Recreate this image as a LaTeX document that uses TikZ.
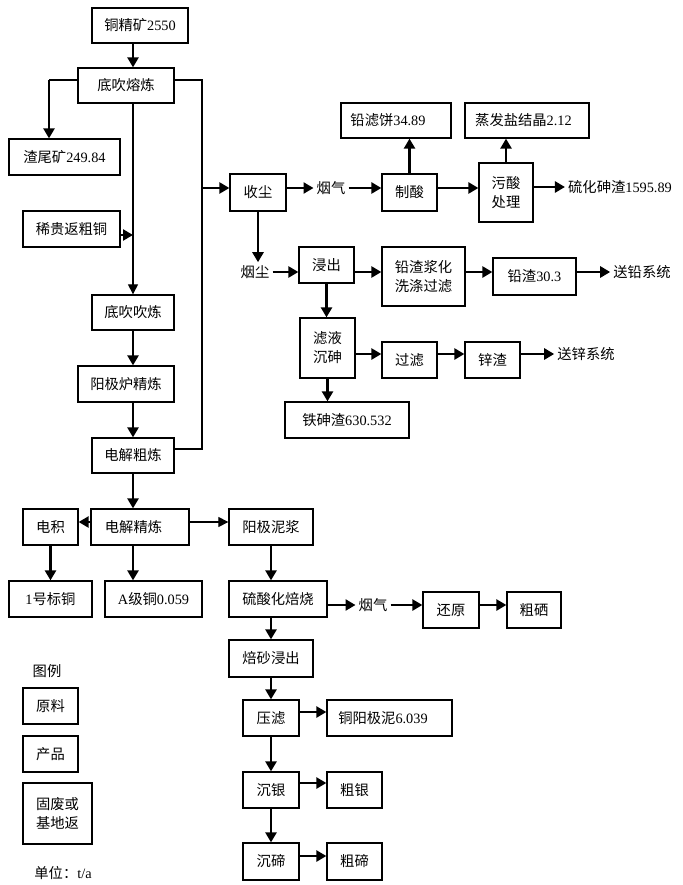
\documentclass[tikz,border=0pt]{standalone}
\usepackage{fontspec}
\setmainfont{Liberation Serif}
\newfontfamily\cjk{Noto Sans CJK SC}
\usetikzlibrary{arrows.meta}
\newcommand\zh[1]{{\cjk #1}}
\newcommand\BX[6]{\node[box, minimum width={(#3-#2)*1pt}, minimum height={(#5-#4)*1pt}] (#1) at ({(#2+#3)/2},{(#4+#5)/2}) {#6};}
\tikzset{
  box/.style={draw, line width=1.3pt, inner sep=0pt, font=\fontsize{14.3}{19}\selectfont, align=center},
  lbl/.style={inner sep=3pt, font=\fontsize{14.3}{19}\selectfont},
  thk/.style={line width=2.5pt, -{Triangle[length=10pt,width=11pt]}},
  thn/.style={line width=1.1pt},
  thnarr/.style={line width=1.1pt, -{Triangle[length=10pt,width=10pt]}},
}
\begin{document}
\begin{tikzpicture}[x=1pt,y=-1pt]
\useasboundingbox[fill=white] (0,0) rectangle (682,885);
% left column
\BX{jjk}{92}{188}{8}{43}{\zh{铜精矿}2550}
\BX{dcrl}{78}{174}{68}{103}{\zh{底吹熔炼}}
\BX{zwk}{9}{120}{139}{175}{\zh{渣尾矿}249.84}
\BX{xgf}{23}{120}{211}{247}{\zh{稀贵返粗铜}}
\BX{dccl}{92}{174}{295}{330}{\zh{底吹吹炼}}
\BX{yjl}{78}{174}{366}{402}{\zh{阳极炉精炼}}
\BX{djcl}{92}{174}{438}{473}{\zh{电解粗炼}}
\BX{dj}{23}{78}{509}{545}{\zh{电积}}
\BX{djjl}{91}{189}{509}{545}{\hspace*{-13pt}\zh{电解精炼}}
\BX{yjnj}{229}{313}{509}{545}{\zh{阳极泥浆}}
\BX{bh}{9}{92}{581}{617}{1\zh{号标铜}}
\BX{aj}{105}{202}{581}{617}{A\zh{级铜}0.059}
\BX{lshbs}{229}{327}{581}{617}{\zh{硫酸化焙烧}}
\BX{hy}{423}{479}{592}{628}{\zh{还原}}
\BX{cx}{507}{561}{592}{628}{\zh{粗硒}}
\BX{bsjc}{229}{313}{640}{677}{\zh{焙砂浸出}}
\BX{yl}{243}{299}{700}{736}{\zh{压滤}}
\BX{tyjn}{327}{452}{700}{736}{\hspace*{-13pt}\zh{铜阳极泥}6.039}
\BX{cy}{243}{299}{772}{808}{\zh{沉银}}
\BX{cyin}{327}{382}{772}{808}{\zh{粗银}}
\BX{ct}{243}{299}{843}{880}{\zh{沉碲}}
\BX{cti}{327}{382}{843}{880}{\zh{粗碲}}
% legend
\node[lbl] (tl) at (47,671) {\zh{图例}};
\BX{lg1}{23}{78}{688}{724}{\zh{原料}}
\BX{lg2}{23}{78}{736}{772}{\zh{产品}}
\BX{lg3}{23}{92}{783}{844}{\zh{固废或}\\\zh{基地返}}
\node[lbl] (unit) at (63,873) {\zh{单位：}t/a};
% right upper part
\BX{ss}{230}{286}{174}{211}{\zh{收尘}}
\BX{zs}{382}{437}{174}{211}{\zh{制酸}}
\BX{qlb}{341}{451}{103}{138}{\hspace*{-16pt}\zh{铅滤饼}34.89}
\BX{wscl}{479}{533}{163}{222}{\zh{污酸}\\\zh{处理}}
\BX{zfy}{465}{589}{103}{138}{\hspace*{-7pt}\zh{蒸发盐结晶}2.12}
\BX{jc}{299}{354}{247}{283}{\zh{浸出}}
\BX{qzjh}{382}{465}{247}{306}{\zh{铅渣浆化}\\\zh{洗涤过滤}}
\BX{qz}{493}{576}{258}{295}{\zh{铅渣}30.3}
\BX{lycs}{300}{355}{318}{378}{\zh{滤液}\\\zh{沉砷}}
\BX{gl}{382}{437}{342}{378}{\zh{过滤}}
\BX{xz}{465}{520}{342}{378}{\zh{锌渣}}
\BX{tsz}{285}{409}{402}{438}{\zh{铁砷渣}630.532}
\node[lbl] (yq1) at (331,188) {\zh{烟气}};
\node[lbl] (lh) at (620,187) {\zh{硫化砷渣}1595.89};
\node[lbl] (yc) at (255,272) {\zh{烟尘}};
\node[lbl] (sq) at (642,272) {\zh{送铅系统}};
\node[lbl] (sx) at (586,354) {\zh{送锌系统}};
\node[lbl] (yq2) at (373,605) {\zh{烟气}};
% helper coordinates
\coordinate (c1) at (49,80);
\coordinate (c2) at (133,235);
\coordinate (c3) at (202,80);
\coordinate (c4) at (202,449);
\coordinate (c5) at (202,188);
% connectors, left column
\draw[thk] ([xshift=-7pt]jjk.south) -- ([xshift=7pt]dcrl.north);
\draw[thn] ([yshift=5.5pt]dcrl.west) -- (c1);
\draw[thk] (c1) -- (c1 |- zwk.north);
\draw[thnarr] ([xshift=7pt]dcrl.south) -- (dccl.north);
\draw[thk] (xgf.east |- c2) -- (c2);
\draw[thn] ([yshift=5.5pt]dcrl.east) -- (c3) -- (c4) -- (c4 -| djcl.east);
\draw[thk] (c5) -- (c5 -| ss.west);
\draw[thk] (dccl.south) -- (dccl.south |- yjl.north);
\draw[thk] (djcl.north |- yjl.south) -- (djcl.north);
\draw[thk] (djcl.south) -- (djcl.south |- djjl.north);
\draw[thk] ([yshift=5pt]djjl.west) -- ([yshift=5pt]dj.east);
\draw[thnarr] ([yshift=5pt]djjl.east) -- ([yshift=5pt]yjnj.west);
\draw[thk] (dj.south) -- (dj.south |- bh.north);
\draw[thk] (djcl.south |- djjl.south) -- (djcl.south |- aj.north);
\draw[thk] (yjnj.south) -- (yjnj.south |- lshbs.north);
\draw[thk] ([yshift=-6pt]lshbs.east) -- (yq2.west);
\draw[thk] (yq2.east) -- (yq2.east -| hy.west);
\draw[thk] ([yshift=5pt]hy.east) -- ([yshift=5pt]cx.west);
\draw[thk] (yjnj.south |- lshbs.south) -- (yjnj.south |- bsjc.north);
\draw[thk] (bsjc.south) -- (bsjc.south |- yl.north);
\draw[thk] ([yshift=6pt]yl.east) -- ([yshift=6pt]tyjn.west);
\draw[thk] (yl.south) -- (cy.north);
\draw[thk] ([yshift=7pt]cy.east) -- ([yshift=7pt]cyin.west);
\draw[thk] (cy.south) -- (ct.north);
\draw[thk] ([yshift=5.5pt]ct.east) -- ([yshift=5.5pt]cti.west);
% connectors, right part
\draw[thk] ([yshift=4.5pt]ss.east) -- (yq1.west);
\draw[thk] (yq1.east) -- ([yshift=4.5pt]zs.west);
\draw[thk] (zs.north) -- (zs.north |- qlb.south);
\draw[thk] ([yshift=4.5pt]zs.east) -- ([yshift=4.5pt]wscl.west);
\draw[thk] (wscl.north) -- (wscl.north |- zfy.south);
\draw[thk] ([yshift=5.5pt]wscl.east) -- (lh.west);
\draw[thk] (ss.south) -- (ss.south |- yc.north);
\draw[thk] (yc.east) -- (yc.east -| jc.west);
\draw[thk] (yc.east -| jc.east) -- (yc.east -| qzjh.west);
\draw[thk] (yc.east -| qzjh.east) -- (yc.east -| qz.west);
\draw[thk] (yc.east -| qz.east) -- (sq.west);
\draw[thk] (jc.south) -- (jc.south |- lycs.north);
\draw[thk] (sx.west -| lycs.east) -- (sx.west -| gl.west);
\draw[thk] (sx.west -| gl.east) -- (sx.west -| xz.west);
\draw[thk] (sx.west -| xz.east) -- (sx.west);
\draw[thk] (lycs.south) -- (lycs.south |- tsz.north);
\end{tikzpicture}
\end{document}
